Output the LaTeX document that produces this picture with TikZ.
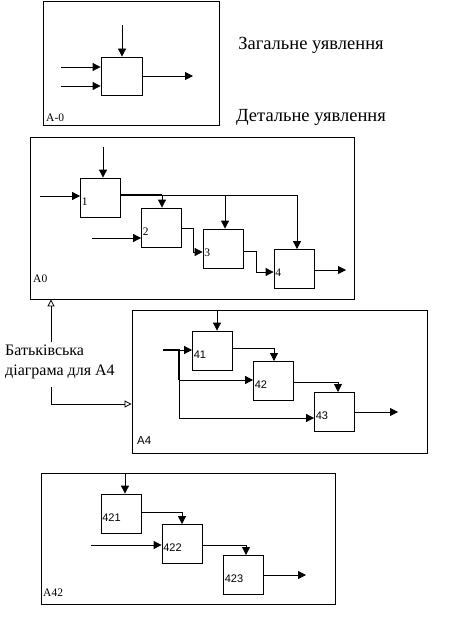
\documentclass[tikz,border=0pt]{standalone}
\usepackage{fontspec}
\setmainfont{Liberation Serif}
\newfontfamily\arialf{Liberation Sans}
\usepackage{tikz}
\usetikzlibrary{arrows.meta,positioning}

\begin{document}
\begin{tikzpicture}[
    x=1pt, y=-1pt,
    every node/.style={font=\fontsize{11.5}{13}\selectfont},
    blk/.style={draw, line width=.8pt, minimum width=40pt, minimum height=39pt, inner sep=0pt},
    frm/.style={draw, line width=.8pt, inner sep=0pt},
    num/.style={anchor=west, inner sep=1.5pt, yshift=-4pt},
    snum/.style={num, font=\arialf\fontsize{11}{13}\selectfont},
    arr/.style={line width=.8pt, -{Triangle[length=8pt,width=8pt]}},
    ln/.style={line width=.8pt},
    thk/.style={line width=2pt},
    par/.style={line width=.8pt, -{Triangle[open,length=7pt,width=7pt]}},
    ttl/.style={font=\fontsize{18.5}{20}\selectfont}
]
\useasboundingbox (0,0) rectangle (454,618);

% frames
\node[frm, minimum width=176pt, minimum height=124pt] (fA) at (131,63) {};
\node[frm, minimum width=324pt, minimum height=162pt] (fA0) at (192,218) {};
\node[frm, minimum width=295pt, minimum height=143pt] (fA4) at (279.5,381.5) {};
\node[frm, minimum width=294pt, minimum height=131pt] (fA42) at (188,538.5) {};
\node[anchor=base west, inner sep=0pt] (tA) at (46,121) {A-0};
\node[anchor=base west, inner sep=0pt] (tA0) at (33,282) {A0};
\node[anchor=base west, inner sep=0pt, font=\arialf\fontsize{11.5}{13}\selectfont] (tA4) at (137,444) {A4};
\node[anchor=base west, inner sep=0pt] (tA42) at (43,596) {A42};

% titles
\node[ttl] (gen) at (311,45) {Загальне уявлення};
\node[ttl] (det) at (311,117) {Детальне уявлення};
\node[align=left, anchor=west, inner sep=0pt, font=\fontsize{16}{20}\selectfont] (par) at (5,362) {Батьківська\\діаграма для А4};

% A-0
\node[blk, minimum width=41pt, minimum height=38pt] (a) at (121.5,76) {};
\coordinate (ac) at (122,25);
\coordinate (ai1) at (61,67);
\coordinate (ai2) at (61,86);
\coordinate (ao) at (193,76);
\draw[arr] (ac) -- (ac |- a.north);
\draw[arr] (ai1) -- (ai1 -| a.west);
\draw[arr] (ai2) -- (ai2 -| a.west);
\draw[arr] (a.east |- ao) -- (ao);

% A0
\node[blk, label={[num]west:1}] (b1) at (100.5,197.5) {};
\node[blk, label={[num]west:2}] (b2) at (161.5,227.5) {};
\node[blk, label={[num]west:3}] (b3) at (223,248.5) {};
\node[blk, label={[num]west:4}] (b4) at (294,269) {};
\coordinate (b1c) at (103,147);
\coordinate (b1i) at (40,196);
\coordinate (b2i) at (92,238);
\coordinate (j1) at (162,195);
\coordinate (j2) at (225,195);
\coordinate (j3) at (297,195);
\coordinate (b4o) at (346,270);
\draw[arr] (b1c) -- (b1c |- b1.north);
\draw[arr] (b1i) -- (b1i -| b1.west);
\draw[arr] (b2i) -- (b2i -| b2.west);
\draw[thk] (b1.east |- j1) -- (j1);
\draw[ln] (j1) -- (j3);
\draw[arr] (j1) -- (j1 |- b2.north);
\draw[arr] (j2) -- (j2 |- b3.north);
\draw[arr] (j3) -- (j3 |- b4.north);
\draw[arr] (b2.east |- 0,228) -- (193,228) -- (193,252) -- (b3.west |- 0,252);
\draw[arr] (b3.east |- 0,251) -- (256,251) -- (256,272) -- (b4.west |- 0,272);
\draw[arr] (b4.east |- b4o) -- (b4o);

% parent
\coordinate (p1) at (51,342);
\coordinate (p2) at (51,387);
\draw[par] (p1) -- (p1 |- fA0.south);
\draw[par] (p2) -- (51,404) -- (fA4.west |- 0,404);

% A4
\node[blk, label={[snum]west:41}] (c1) at (212.5,350.5) {};
\node[blk, label={[snum]west:42}] (c2) at (273.5,381) {};
\node[blk, label={[snum]west:43}] (c3) at (334.5,412) {};
\coordinate (c1c) at (217,310);
\coordinate (ci) at (163,350);
\coordinate (k1) at (179,350);
\coordinate (k2) at (179,380);
\coordinate (k3) at (179,418);
\coordinate (c3o) at (398,412);
\draw[arr] (c1c) -- (c1c |- c1.north);
\draw[thk] (ci) -- (k1) -- (k2);
\draw[ln] (k2) -- (k3);
\draw[arr] (k1) -- (k1 -| c1.west);
\draw[arr] (k2) -- (k2 -| c2.west);
\draw[arr] (k3) -- (k3 -| c3.west);
\draw[arr] (c1.east |- 0,348) -- (274,348) -- (274,361);
\draw[arr] (c2.east |- 0,382) -- (338,382) -- (338,392);
\draw[arr] (c3.east |- c3o) -- (c3o);

% A42
\node[blk, label={[snum]west:421}] (d1) at (121,513.5) {};
\node[blk, label={[snum]west:422}] (d2) at (182,544) {};
\node[blk, label={[snum]west:423}] (d3) at (243.5,574.5) {};
\coordinate (d1c) at (125,473);
\coordinate (d2i) at (91,545);
\coordinate (d3o) at (306,575);
\draw[arr] (d1c) -- (d1c |- d1.north);
\draw[arr] (d1.east |- 0,512) -- (182,512) -- (d2.north);
\draw[arr] (d2i) -- (d2i -| d2.west);
\draw[arr] (d2.east |- 0,545) -- (246,545) -- (246,555);
\draw[arr] (d3.east |- d3o) -- (d3o);
\end{tikzpicture}
\end{document}
